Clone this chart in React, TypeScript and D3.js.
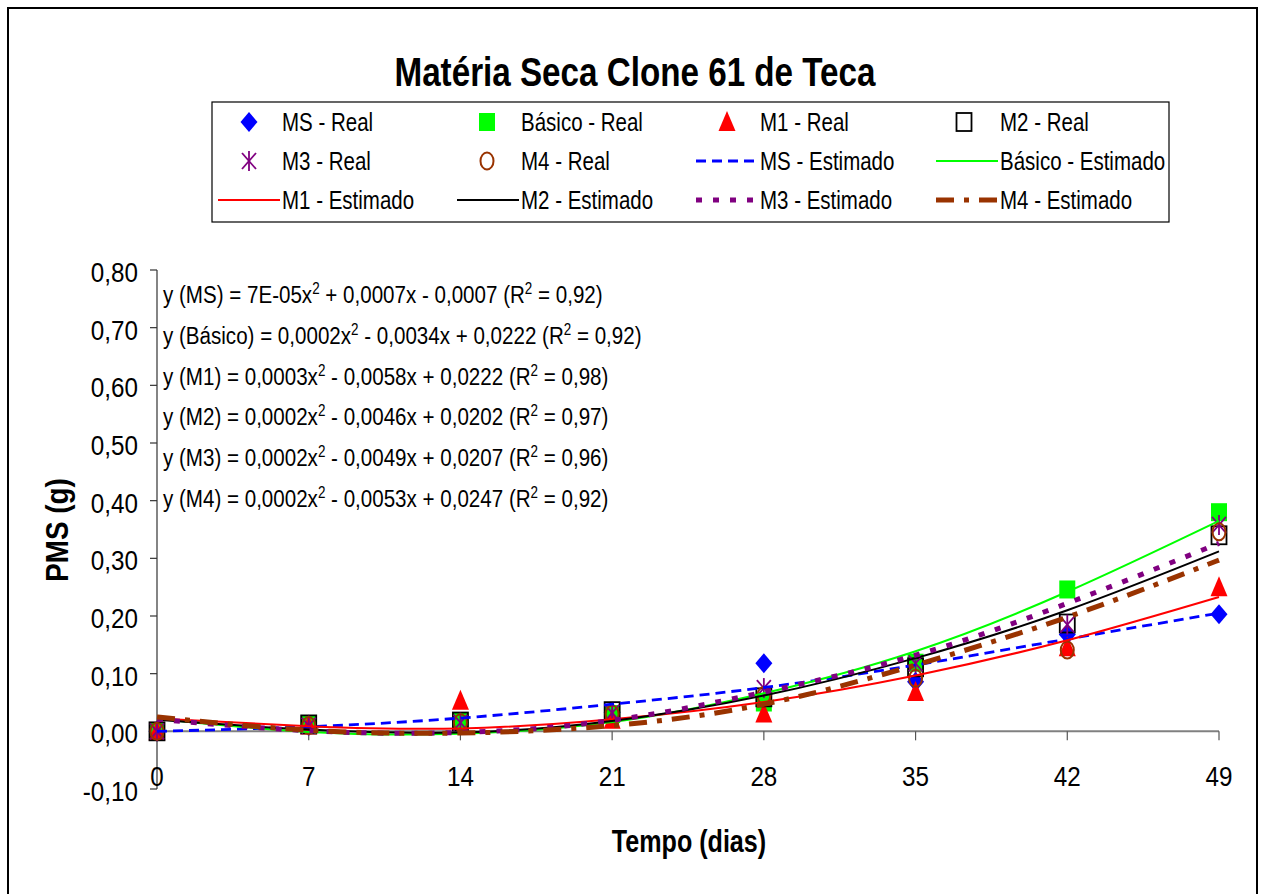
import React from 'react';
import * as d3 from 'd3';

const days = [0, 7, 14, 21, 28, 35, 42, 49];
const yTickValues = [-0.1, 0, 0.1, 0.2, 0.3, 0.4, 0.5, 0.6, 0.7, 0.8];

// Real (observed) values
const msReal = [0.0, 0.010, 0.015, 0.033, 0.118, 0.086, 0.168, 0.203];
const basicoReal = [0.0, 0.012, 0.017, 0.030, 0.050, 0.119, 0.246, 0.380];
const m1Real = [0.0, 0.010, 0.053, 0.020, 0.031, 0.068, 0.146, 0.250];
const m2Real = [0.0, 0.012, 0.017, 0.035, 0.059, 0.111, 0.187, 0.340];
const m3Real = [0.0, 0.010, 0.015, 0.032, 0.075, 0.118, 0.185, 0.358];
const m4Real = [0.0, 0.010, 0.015, 0.030, 0.062, 0.092, 0.141, 0.346];

// Estimated (trend) values
const msEst = [0.000, 0.008, 0.023, 0.047, 0.076, 0.115, 0.160, 0.205];
const basicoEst = [0.022, -0.001, -0.004, 0.016, 0.066, 0.139, 0.242, 0.365];
const m1Est = [0.022, 0.009, 0.005, 0.021, 0.051, 0.097, 0.158, 0.233];
const m2Est = [0.020, 0.003, -0.002, 0.018, 0.062, 0.127, 0.210, 0.312];
const m3Est = [0.021, 0.001, -0.002, 0.019, 0.068, 0.132, 0.222, 0.326];
const m4Est = [0.025, 0.002, -0.003, 0.010, 0.047, 0.115, 0.198, 0.297];

const equations = [
  ['y (MS) = 7E-05x', ' + 0,0007x - 0,0007 (R', ' = 0,92)'],
  ['y (Básico) = 0,0002x', ' - 0,0034x + 0,0222 (R', ' = 0,92)'],
  ['y (M1) = 0,0003x', ' - 0,0058x + 0,0222 (R', ' = 0,98)'],
  ['y (M2) = 0,0002x', ' - 0,0046x + 0,0202 (R', ' = 0,97)'],
  ['y (M3) = 0,0002x', ' - 0,0049x + 0,0207 (R', ' = 0,96)'],
  ['y (M4) = 0,0002x', ' - 0,0053x + 0,0247 (R', ' = 0,92)'],
];

const FONT = '"Liberation Sans", Arial, sans-serif';

const realSeries = [
  { name: 'MS - Real', values: msReal, marker: 'diamond', color: '#0000FF' },
  { name: 'Básico - Real', values: basicoReal, marker: 'fsquare', color: '#00FF00' },
  { name: 'M1 - Real', values: m1Real, marker: 'triangle', color: '#FF0000' },
  { name: 'M2 - Real', values: m2Real, marker: 'osquare', color: '#000000' },
  { name: 'M3 - Real', values: m3Real, marker: 'star', color: '#800080' },
  { name: 'M4 - Real', values: m4Real, marker: 'circle', color: '#993300' },
];

const estSeries = [
  { name: 'MS - Estimado', values: msEst, color: '#0000FF', width: 2.8, dash: '10,6' },
  { name: 'Básico - Estimado', values: basicoEst, color: '#00FF00', width: 2, dash: null },
  { name: 'M1 - Estimado', values: m1Est, color: '#FF0000', width: 2, dash: null },
  { name: 'M2 - Estimado', values: m2Est, color: '#000000', width: 2, dash: null },
  { name: 'M3 - Estimado', values: m3Est, color: '#800080', width: 5, dash: '6,11' },
  { name: 'M4 - Estimado', values: m4Est, color: '#993300', width: 5, dash: '18,10,5,10' },
];

function Marker({ type, cx, cy, color }: { type: string; cx: number; cy: number; color: string }) {
  switch (type) {
    case 'diamond':
      return <path d={`M${cx},${cy - 10}L${cx + 8.5},${cy}L${cx},${cy + 10}L${cx - 8.5},${cy}Z`} fill={color} />;
    case 'fsquare':
      return <rect x={cx - 8} y={cy - 9} width={16} height={18} fill={color} />;
    case 'triangle':
      return <path d={`M${cx},${cy - 11}L${cx + 8.5},${cy + 9}L${cx - 8.5},${cy + 9}Z`} fill={color} />;
    case 'osquare':
      return <rect x={cx - 7.5} y={cy - 9} width={15} height={18} fill="none" stroke={color} strokeWidth={1.8} />;
    case 'star':
      return (
        <g stroke={color} strokeWidth={1.8}>
          <line x1={cx} y1={cy - 10} x2={cx} y2={cy + 10} />
          <line x1={cx - 7} y1={cy - 8} x2={cx + 7} y2={cy + 8} />
          <line x1={cx + 7} y1={cy - 8} x2={cx - 7} y2={cy + 8} />
        </g>
      );
    case 'circle':
      return <ellipse cx={cx} cy={cy} rx={6.5} ry={8.5} fill="none" stroke={color} strokeWidth={2} />;
    default:
      return null;
  }
}

function T({ x, y, size, sx = 1, anchor = 'start', weight = 'normal', rotate = 0, children }: any) {
  return (
    <g transform={`translate(${x},${y}) rotate(${rotate}) scale(${sx},1)`}>
      <text x={0} y={0} fontSize={size} textAnchor={anchor} fontWeight={weight}>{children}</text>
    </g>
  );
}

export default function App() {
  const x = d3.scaleLinear().domain([0, 49]).range([157, 1219]);
  const y = d3.scaleLinear().domain([-0.1, 0.8]).range([789, 270]);
  const fmt = (v: number) => d3.format('.2f')(v).replace('.', ',').replace('−', '-');

  const line = (vals: number[]) =>
    d3.line<number>().x((_, i) => x(days[i])).y((v) => y(v)).curve(d3.curveNatural)(vals) || '';

  const legendMarkerX = [249, 487, 727, 964];
  const legendTextX = [282, 521, 760, 1000];
  const legendRowY = [122, 161, 200];
  const legendItems = [
    ...realSeries.map((s) => ({ kind: 'marker', ...s })),
    ...estSeries.map((s) => ({ kind: 'line', ...s })),
  ] as any[];

  return (
    <svg width={1265} height={894} style={{ position: 'absolute', left: 0, top: 0, background: '#fff' }} fontFamily={FONT}>
      <rect x={8} y={8} width={1249} height={900} fill="#fff" stroke="#000" strokeWidth={2} />
      <T x={635} y={86} size={41} sx={0.81} anchor="middle" weight="bold">Matéria Seca Clone 61 de Teca</T>

      {/* Legend */}
      <rect x={212} y={102} width={957} height={120} fill="none" stroke="#000" strokeWidth={1.2} />
      {legendItems.map((it, i) => {
        const col = i % 4;
        const row = Math.floor(i / 4);
        const cy = legendRowY[row];
        return (
          <g key={it.name}>
            {it.kind === 'marker' ? (
              <Marker type={it.marker} cx={legendMarkerX[col]} cy={cy} color={it.color} />
            ) : (
              <line x1={legendTextX[col] - 64} x2={legendTextX[col] - 2} y1={cy} y2={cy}
                stroke={it.color} strokeWidth={it.width} strokeDasharray={it.dash || undefined} />
            )}
            <T x={legendTextX[col]} y={cy + 9} size={25} sx={0.82}>{it.name}</T>
          </g>
        );
      })}

      {/* Y axis */}
      <line x1={157} x2={157} y1={y(0.8)} y2={y(-0.1)} stroke="#333" strokeWidth={1.2} />
      {yTickValues.map((v) => (
        <g key={v}>
          <line x1={150} x2={157} y1={y(v)} y2={y(v)} stroke="#333" strokeWidth={1.2} />
          <T x={138} y={y(v) + 12} size={28.5} sx={0.85} anchor="end">{fmt(v)}</T>
        </g>
      ))}

      {/* X axis at zero */}
      <line x1={x(0)} x2={x(49)} y1={y(0)} y2={y(0)} stroke="#808080" strokeWidth={2} />
      {days.map((d) => (
        <g key={d}>
          <line x1={x(d)} x2={x(d)} y1={y(0)} y2={y(0) + 9} stroke="#555" strokeWidth={1.2} />
          <T x={x(d)} y={786} size={28.5} sx={0.85} anchor="middle">{d}</T>
        </g>
      ))}

      <T x={689} y={852} size={31} sx={0.81} anchor="middle" weight="bold">Tempo (dias)</T>
      <T x={68} y={530} size={32} sx={0.87} anchor="middle" weight="bold" rotate={-90}>PMS (g)</T>

      {/* Equations */}
      {equations.map((eq, i) => (
        <g key={i} transform={`translate(163,${303 + i * 40.8}) scale(0.84,1)`}>
          <text x={0} y={0} fontSize={24.5}>
            {eq[0]}
            <tspan fontSize={16} dy={-9}>2</tspan>
            <tspan dy={9}>{eq[1]}</tspan>
            <tspan fontSize={16} dy={-9}>2</tspan>
            <tspan dy={9}>{eq[2]}</tspan>
          </text>
        </g>
      ))}

      {/* Real markers */}
      {realSeries.map((s) => (
        <g key={s.name}>
          {s.values.map((v, i) => (
            <Marker key={i} type={s.marker} cx={x(days[i])} cy={y(v)} color={s.color} />
          ))}
        </g>
      ))}

      {/* Estimated lines */}
      {estSeries.map((s) => (
        <path key={s.name} d={line(s.values)} fill="none" stroke={s.color} strokeWidth={s.width}
          strokeDasharray={s.dash || undefined} />
      ))}
    </svg>
  );
}
